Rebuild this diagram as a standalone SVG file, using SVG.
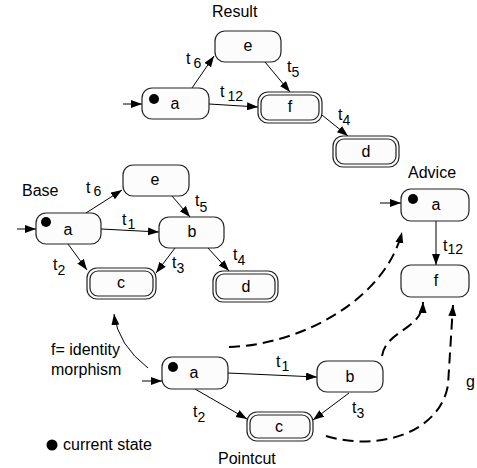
<svg xmlns="http://www.w3.org/2000/svg" width="477" height="468" viewBox="0 0 477 468">
<style>
text{font-family:"Liberation Sans",Arial,sans-serif;font-size:16px;fill:#000}
.n{fill:#fcfcfc;stroke:#222;stroke-width:1.2}
.ni{fill:none;stroke:#222;stroke-width:1.2}
.lbl{text-anchor:middle}
.sub{font-size:14px}
.e{fill:none;stroke:#000;stroke-width:1}
.d{fill:none;stroke:#000;stroke-width:2;stroke-dasharray:11,6}
</style>
<defs>
<marker id="ah" markerUnits="userSpaceOnUse" markerWidth="12" markerHeight="10" refX="11" refY="4" orient="auto">
<path d="M0,0 L11,4 L0,8 z" fill="#000"/>
</marker>
</defs>
<rect width="477" height="468" fill="#fff"/>
<text x="212" y="17">Result</text>
<text x="22" y="196">Base</text>
<text x="408" y="178">Advice</text>
<text x="218" y="464">Pointcut</text>
<text x="51" y="355">f= identity</text>
<text x="51" y="375">morphism</text>
<circle cx="52" cy="445" r="5.5" fill="#000"/>
<text x="63" y="450">current state</text>
<text x="466" y="387">g</text>

<g id="connectors">
<!-- Result -->
<line class="e" x1="123" y1="104" x2="142" y2="104" marker-end="url(#ah)"/>
<line class="e" x1="192" y1="88" x2="214" y2="56" marker-end="url(#ah)"/>
<line class="e" x1="265" y1="62" x2="290" y2="92" marker-end="url(#ah)"/>
<line class="e" x1="209" y1="104" x2="258" y2="107" marker-end="url(#ah)"/>
<line class="e" x1="322" y1="115" x2="348" y2="136" marker-end="url(#ah)"/>
<!-- Base -->
<line class="e" x1="17" y1="229" x2="36" y2="229" marker-end="url(#ah)"/>
<line class="e" x1="86" y1="213" x2="122" y2="190" marker-end="url(#ah)"/>
<line class="e" x1="172" y1="196" x2="190" y2="217" marker-end="url(#ah)"/>
<line class="e" x1="101" y1="229" x2="159" y2="232" marker-end="url(#ah)"/>
<line class="e" x1="68" y1="244" x2="87" y2="270" marker-end="url(#ah)"/>
<line class="e" x1="175" y1="248" x2="156" y2="273" marker-end="url(#ah)"/>
<line class="e" x1="208" y1="248" x2="229" y2="271" marker-end="url(#ah)"/>
<!-- Advice -->
<line class="e" x1="380" y1="203" x2="401" y2="203" marker-end="url(#ah)"/>
<line class="e" x1="436" y1="221" x2="436" y2="265" marker-end="url(#ah)"/>
<!-- Pointcut -->
<line class="e" x1="142" y1="381" x2="162" y2="381" marker-end="url(#ah)"/>
<line class="e" x1="228" y1="373" x2="317" y2="377" marker-end="url(#ah)"/>
<line class="e" x1="195" y1="389" x2="247" y2="419" marker-end="url(#ah)"/>
<line class="e" x1="349" y1="393" x2="313" y2="420" marker-end="url(#ah)"/>
<!-- identity morphism -->
<path class="e" d="M148,368 Q118,345 114,314" marker-end="url(#ah)"/>
<!-- dashed morphisms -->
<path class="d" d="M229,347 C300,345 385,300 402,232" marker-end="url(#ah)"/>
<path class="d" d="M382,356 C386,330 422,330 423,302" marker-end="url(#ah)"/>
<path class="d" d="M326,436 C380,452 440,432 448,385 L453,305" marker-end="url(#ah)"/>
</g>

<!-- Result nodes -->
<g id="r_e"><rect class="n" x="215" y="31" width="66" height="31" rx="10"/><text class="lbl" x="248" y="51">e</text></g>
<g id="r_a"><rect class="n" x="142" y="88" width="67" height="31" rx="10"/><circle cx="154" cy="99" r="5" fill="#000"/><text class="lbl" x="175" y="109">a</text></g>
<g id="r_f"><rect class="n" x="258" y="92" width="64" height="31" rx="10"/><rect class="ni" x="261" y="95" width="58" height="25" rx="8"/><text class="lbl" x="290" y="112">f</text></g>
<g id="r_d"><rect class="n" x="333" y="136" width="66" height="31" rx="10"/><rect class="ni" x="336" y="139" width="60" height="25" rx="8"/><text class="lbl" x="366" y="157">d</text></g>
<g id="r_labels">
<text x="186" y="64">t<tspan class="sub" dx="3" dy="4">6</tspan></text>
<text x="220" y="97">t<tspan class="sub" dx="3" dy="4">12</tspan></text>
<text x="287" y="72">t<tspan class="sub" dx="0" dy="5">5</tspan></text>
<text x="338" y="120">t<tspan class="sub" dx="0" dy="5">4</tspan></text>
</g>

<!-- Base nodes -->
<g id="b_e"><rect class="n" x="123" y="165" width="66" height="31" rx="10"/><text class="lbl" x="155" y="185">e</text></g>
<g id="b_a"><rect class="n" x="36" y="213" width="65" height="31" rx="10"/><circle cx="46" cy="222" r="5" fill="#000"/><text class="lbl" x="68" y="235">a</text></g>
<g id="b_b"><rect class="n" x="159" y="217" width="65" height="31" rx="10"/><text class="lbl" x="192" y="237">b</text></g>
<g id="b_c"><rect class="n" x="87" y="268" width="69" height="31" rx="10"/><rect class="ni" x="90" y="271" width="63" height="25" rx="8"/><text class="lbl" x="121" y="288">c</text></g>
<g id="b_d"><rect class="n" x="213" y="271" width="65" height="31" rx="10"/><rect class="ni" x="216" y="274" width="59" height="25" rx="8"/><text class="lbl" x="246" y="292">d</text></g>
<g id="b_labels">
<text x="86" y="193">t<tspan class="sub" dx="3" dy="3">6</tspan></text>
<text x="195" y="206">t<tspan class="sub" dx="0" dy="6">5</tspan></text>
<text x="122" y="225">t<tspan class="sub" dx="1" dy="4">1</tspan></text>
<text x="53" y="270">t<tspan class="sub" dx="0" dy="5">2</tspan></text>
<text x="172" y="268">t<tspan class="sub" dx="0" dy="5">3</tspan></text>
<text x="233" y="260">t<tspan class="sub" dx="0" dy="5">4</tspan></text>
</g>

<!-- Advice nodes -->
<g id="a_a"><rect class="n" x="401" y="189" width="68" height="32" rx="10"/><circle cx="413" cy="199" r="5" fill="#000"/><text class="lbl" x="436" y="210">a</text></g>
<g id="a_f"><rect class="n" x="401" y="265" width="68" height="32" rx="10"/><text class="lbl" x="436" y="286">f</text></g>
<text x="443" y="251">t<tspan class="sub" dx="0" dy="3">12</tspan></text>

<!-- Pointcut nodes -->
<g id="p_a"><rect class="n" x="162" y="357" width="66" height="32" rx="10"/><circle cx="173" cy="367" r="5" fill="#000"/><text class="lbl" x="194" y="378">a</text></g>
<g id="p_b"><rect class="n" x="317" y="361" width="66" height="31" rx="10"/><text class="lbl" x="350" y="382">b</text></g>
<g id="p_c"><rect class="n" x="247" y="412" width="66" height="29" rx="10"/><rect class="ni" x="250" y="415" width="60" height="23" rx="8"/><text class="lbl" x="279" y="432">c</text></g>
<g id="p_labels">
<text x="276" y="367">t<tspan class="sub" dx="1" dy="4">1</tspan></text>
<text x="352" y="413">t<tspan class="sub" dx="0" dy="5">3</tspan></text>
<text x="193" y="417">t<tspan class="sub" dx="0" dy="5">2</tspan></text>
</g>
</svg>
